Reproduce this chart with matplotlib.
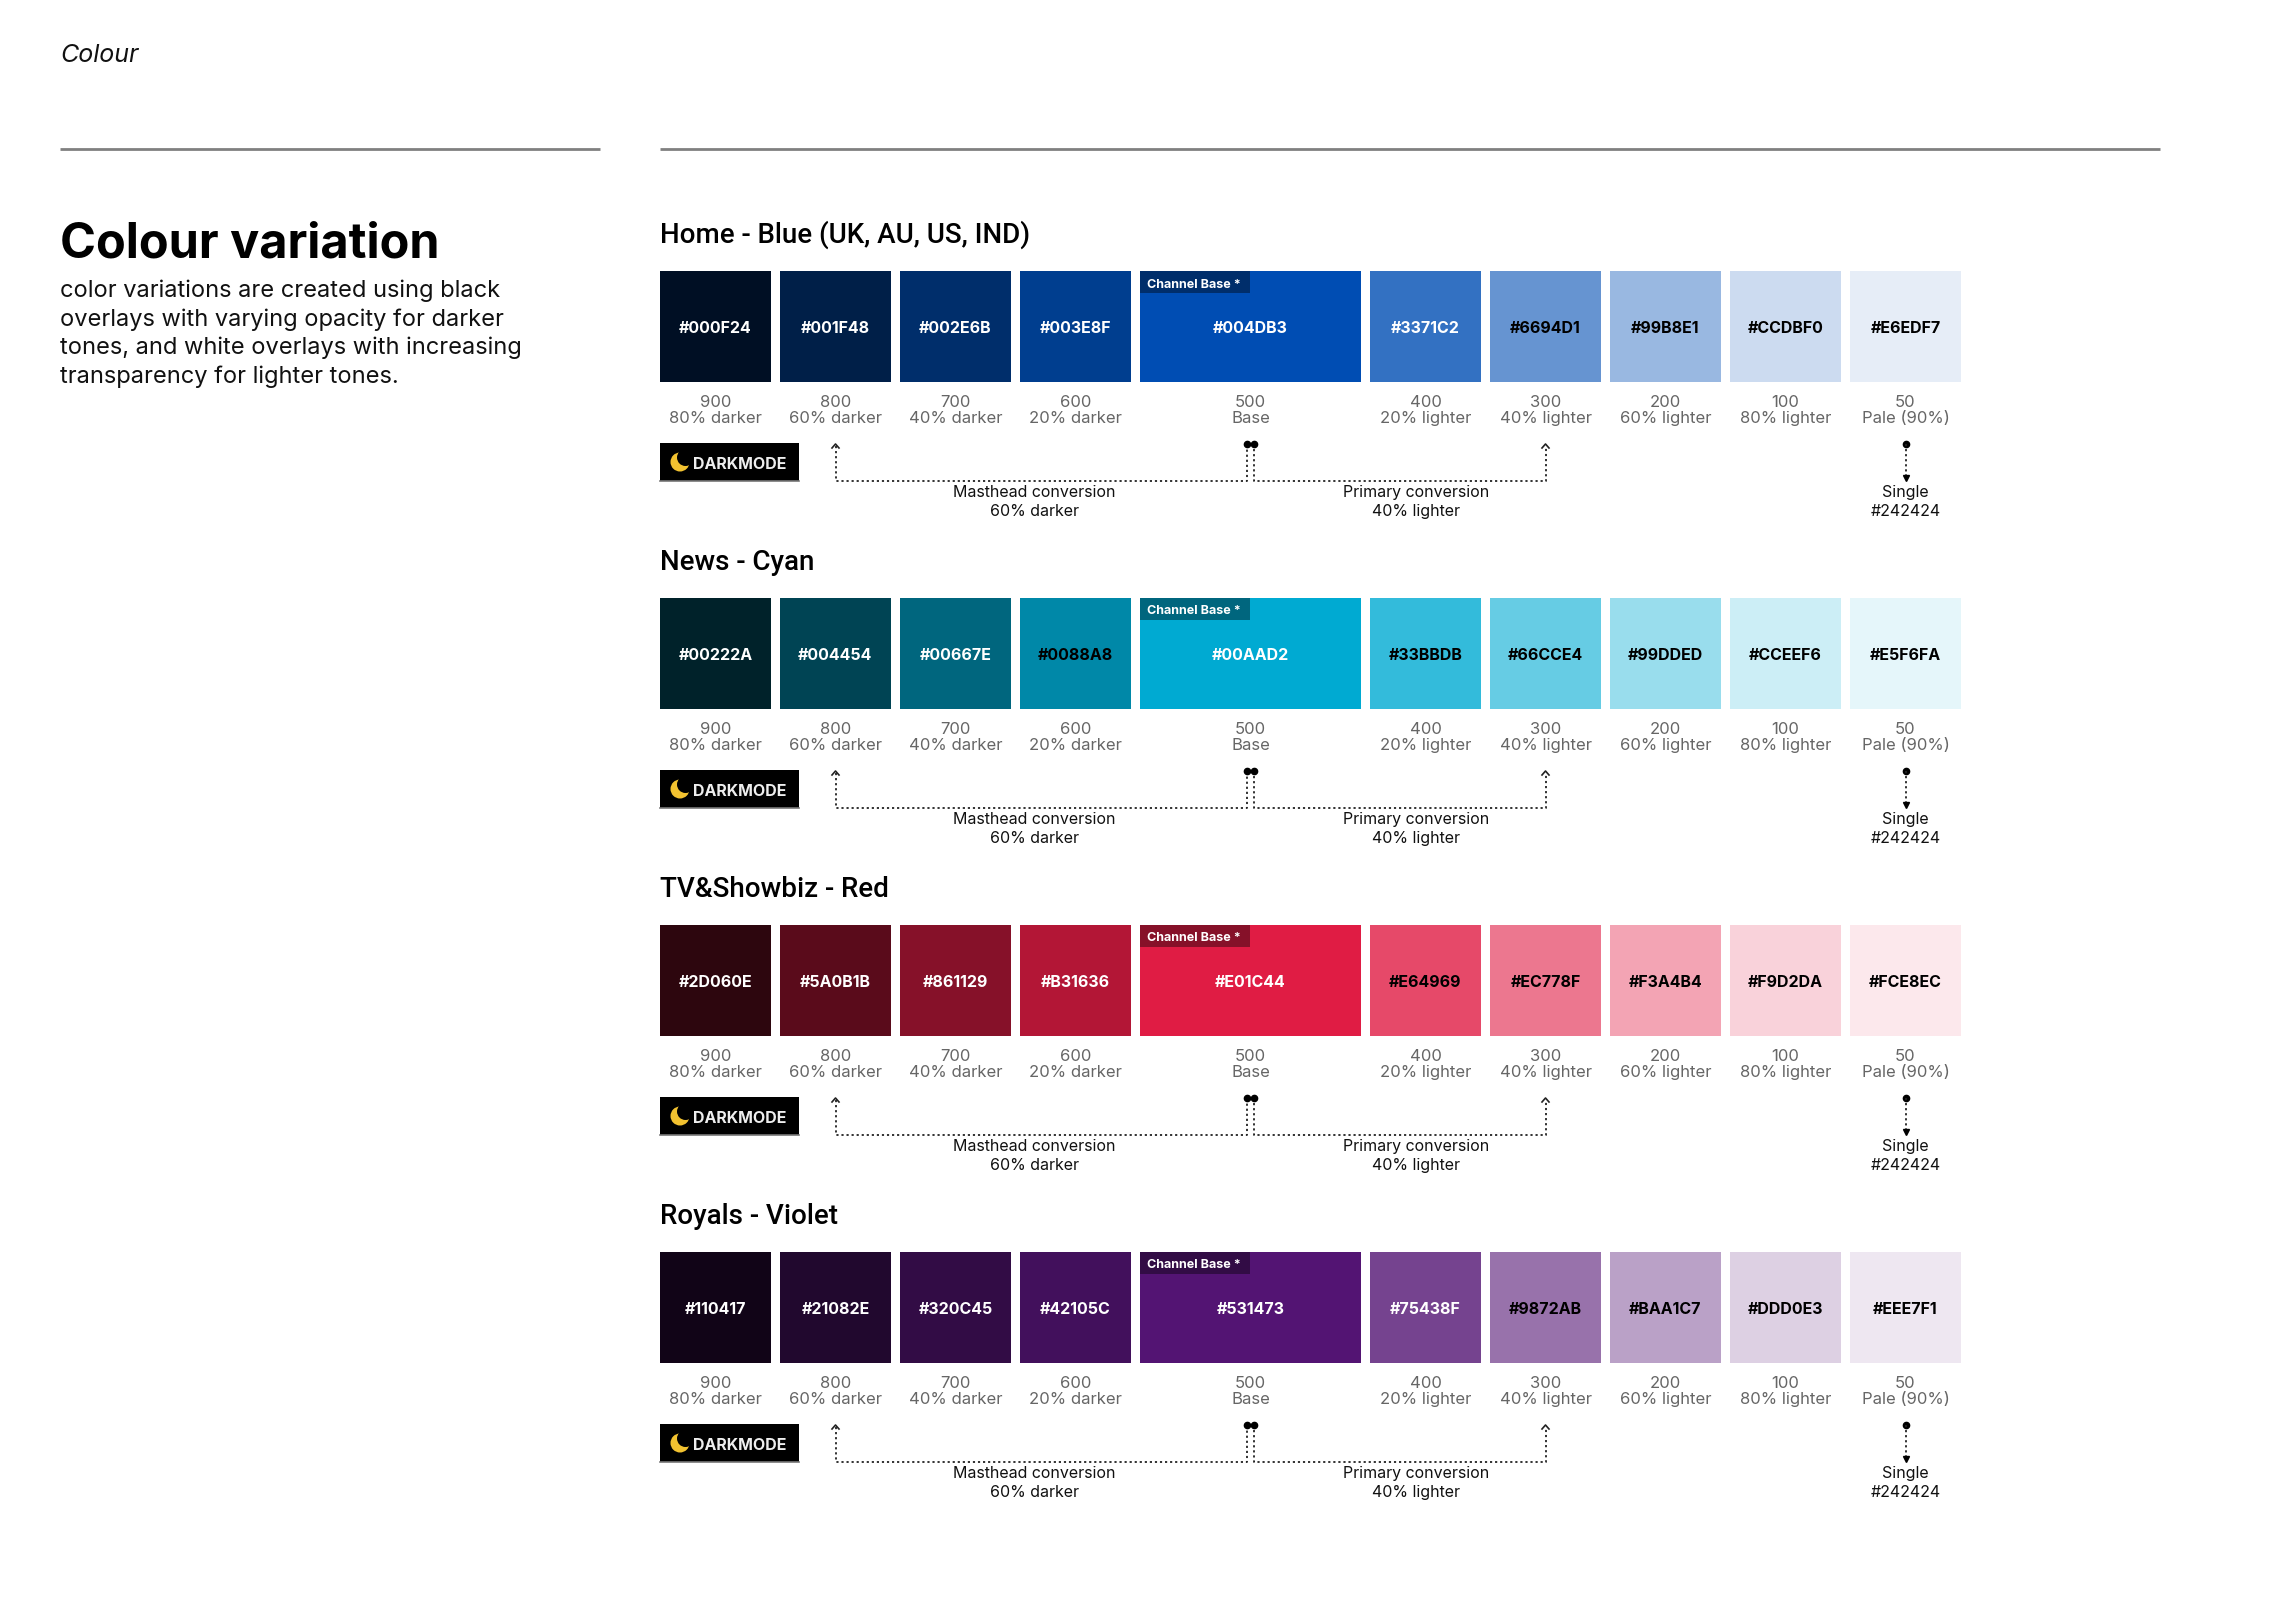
import matplotlib
matplotlib.use("Agg")
import matplotlib.pyplot as plt
from matplotlib.patches import Rectangle, Circle

plt.rcParams['font.family'] = ['Inter', 'DejaVu Sans']

# palette data
families = ["Home - Blue (UK, AU, US, IND)", "News - Cyan", "TV&Showbiz - Red", "Royals - Violet"]
blue = ["#000F24", "#001F48", "#002E6B", "#003E8F", "#004DB3", "#3371C2", "#6694D1", "#99B8E1", "#CCDBF0", "#E6EDF7"]
cyan = ["#00222A", "#004454", "#00667E", "#0088A8", "#00AAD2", "#33BBDB", "#66CCE4", "#99DDED", "#CCEEF6", "#E5F6FA"]
red = ["#2D060E", "#5A0B1B", "#861129", "#B31636", "#E01C44", "#E64969", "#EC778F", "#F3A4B4", "#F9D2DA", "#FCE8EC"]
violet = ["#110417", "#21082E", "#320C45", "#42105C", "#531473", "#75438F", "#9872AB", "#BAA1C7", "#DDD0E3", "#EEE7F1"]
palettes = [blue, cyan, red, violet]
# which swatches carry white text
white_text = [
    [1, 1, 1, 1, 1, 1, 0, 0, 0, 0],
    [1, 1, 1, 0, 1, 0, 0, 0, 0, 0],
    [1, 1, 1, 1, 1, 0, 0, 0, 0, 0],
    [1, 1, 1, 1, 1, 1, 0, 0, 0, 0],
]
levels = ["900", "800", "700", "600", "500", "400", "300", "200", "100", "50"]
level_notes = ["80% darker", "60% darker", "40% darker", "20% darker", "Base",
               "20% lighter", "40% lighter", "60% lighter", "80% lighter", "Pale (90%)"]
base_idx = 4
masthead_idx = 1
primary_idx = 6
single_idx = 9

W, H = 2280, 1624
fig = plt.figure(figsize=(W / 100, H / 100), dpi=100)
ax = fig.add_axes([0, 0, 1, 1])
ax.set_xlim(0, W)
ax.set_ylim(H, 0)
ax.axis('off')

# page header
ax.text(60, 62, "Colour", fontsize=18, style='italic', color='#111111', va='baseline')
ax.plot([60, 600], [150, 150], color='#808080', lw=2, solid_capstyle='butt')
ax.plot([660, 2160], [150, 150], color='#808080', lw=2, solid_capstyle='butt')

ax.text(60, 258, "Colour variation", fontsize=35, fontweight='bold', color='black', va='baseline')
para = ["color variations are created using black",
        "overlays with varying opacity for darker",
        "tones, and white overlays with increasing",
        "transparency for lighter tones."]
for k, line in enumerate(para):
    ax.text(60, 297 + k * 28.7, line, fontsize=17, color='#111111', va='baseline')

X0, SW, GAP = 660, 111, 9
TOP0, PITCH = 272, 327
dot_kw = dict(color='#222222', lw=1.3, linestyle=(0, (1.2, 1.6)))


def swatch_x(i):
    left = X0 + i * (SW + GAP)
    if i > base_idx:
        left += SW - 1
    width = 2 * SW - 1 if i == base_idx else SW
    return left, width


for r, (name, pal) in enumerate(zip(families, palettes)):
    T = TOP0 + r * PITCH
    ax.text(X0, T - 29, name, fontsize=20, fontweight='medium', family=['Roboto', 'DejaVu Sans'],
            color='black', va='baseline')
    centers = []
    for i, col in enumerate(pal):
        left, width = swatch_x(i)
        cx = left + width / 2
        centers.append(cx)
        ax.add_patch(Rectangle((left, T), width, SW, facecolor=col, edgecolor='none'))
        tc = 'white' if white_text[r][i] else 'black'
        ax.text(cx, T + SW / 2 + 5.5, col, fontsize=11.5, fontweight='bold', color=tc,
                ha='center', va='baseline')
        ax.text(cx, T + 135, levels[i], fontsize=12, color='#666666', ha='center', va='baseline')
        ax.text(cx, T + 151, level_notes[i], fontsize=12, color='#666666', ha='center', va='baseline')
        if i == base_idx:
            ax.add_patch(Rectangle((left, T), 110, 22, facecolor=pal[2], edgecolor='none'))
            ax.text(left + 7, T + 15.5, "Channel Base *", fontsize=9, fontweight='bold',
                    color='white', va='baseline')

    # darkmode badge
    ax.add_patch(Rectangle((X0, T + 172), 139, 38, facecolor='black', edgecolor='none'))
    ax.plot([X0, X0 + 139], [T + 209.5, T + 209.5], color='#777777', lw=1.2)
    mx, my = X0 + 20, T + 191
    ax.add_patch(Circle((mx, my), 9.5, facecolor='#F2C230', edgecolor='none'))
    ax.add_patch(Circle((mx + 5.5, my - 4.5), 8.5, facecolor='black', edgecolor='none'))
    ax.text(X0 + 33, T + 197, "DARKMODE", fontsize=11.5, fontweight='bold', color='#EEEEEE',
            va='baseline')

    # connectors
    y_top, y_line = T + 173, T + 210
    xb1, xb2 = centers[base_idx] - 3.5, centers[base_idx] + 3.5
    xm, xp, xs = centers[masthead_idx], centers[primary_idx], centers[single_idx]
    ax.plot([xm, xm, xb1, xb1], [y_top + 2, y_line, y_line, y_top], **dot_kw)
    ax.plot([xb2, xb2, xp, xp], [y_top, y_line, y_line, y_top + 2], **dot_kw)
    for xa in (xm, xp):
        ax.plot([xa - 3.5, xa, xa + 3.5], [y_top + 4, y_top, y_top + 4], color='#222222', lw=1.2)
    ax.plot([xb1, xb2, xs], [y_top, y_top, y_top], 'o', color='black', ms=4.5)
    ax.plot([xs, xs], [y_top, y_line - 5], **dot_kw)
    ax.plot([xs], [y_line - 3], 'v', color='black', ms=4)

    ax.text(1034, T + 225, "Masthead conversion", fontsize=11.5, color='#111111', ha='center', va='baseline')
    ax.text(1034, T + 244, "60% darker", fontsize=11.5, color='#111111', ha='center', va='baseline')
    ax.text(1416, T + 225, "Primary conversion", fontsize=11.5, color='#111111', ha='center', va='baseline')
    ax.text(1416, T + 244, "40% lighter", fontsize=11.5, color='#111111', ha='center', va='baseline')
    ax.text(xs, T + 225, "Single", fontsize=11.5, color='#111111', ha='center', va='baseline')
    ax.text(xs, T + 244, "#242424", fontsize=11.5, color='#111111', ha='center', va='baseline')

fig.savefig("out.png", dpi=100, facecolor='white')
